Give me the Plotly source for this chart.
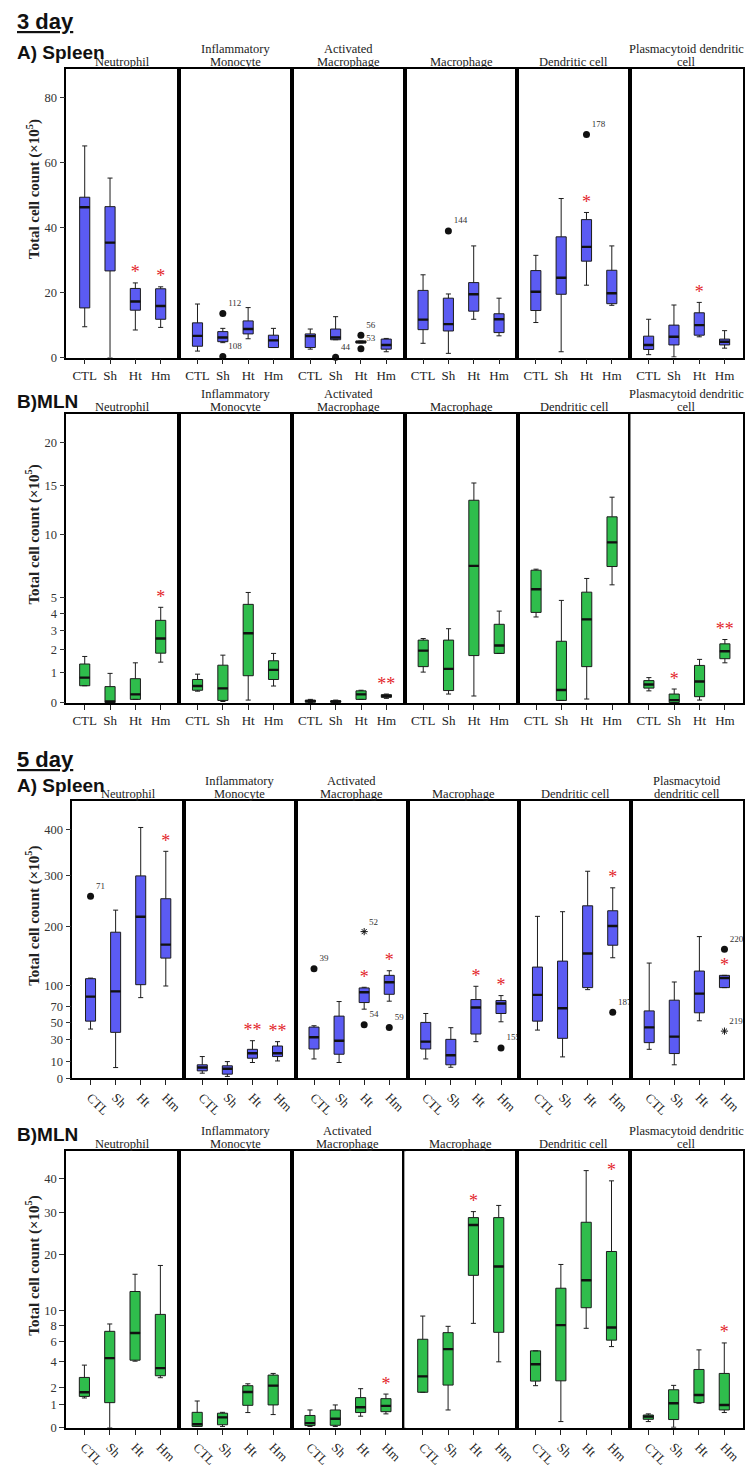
import numpy as np
import plotly.graph_objects as go

W, H = 749, 1468
groups = ["CTL", "Sh", "Ht", "Hm"]
cells_a = ["Neutrophil", "Inflammatory<br>Monocyte", "Activated<br>Macrophage",
           "Macrophage", "Dendritic cell", "Plasmacytoid dendritic<br>cell"]
cells_b = ["Neutrophil", "Inflammatory<br>Monocyte", "Activated<br>Macrophage",
           "Macrophage", "Dendritic cell", "Plasmacytoid<br>dendritic cell"]

# ---------------- 3 day spleen (linear axis) ----------------
spl3_lo = [[9.5, 0, 8.5, 9.3], [2.0, 4.6, 5.8, 3.1], [2.6, 5.5, 4.5, 1.8],
           [4.4, 1.3, 11.8, 6.7], [10.8, 1.8, 22.3, 16.1], [0.9, 0.2, 6.4, 2.9]]
spl3_q1 = [[15.3, 26.7, 14.6, 11.8], [3.5, 4.9, 7.3, 3.1], [3.1, 5.5, 4.5, 2.6],
           [8.6, 8.2, 14.3, 7.7], [14.5, 19.5, 29.7, 16.6], [2.5, 3.9, 6.9, 3.9]]
spl3_med = [[46.3, 35.4, 17.3, 15.9], [6.7, 6.2, 8.8, 5.3], [6.6, 6.2, 4.8, 3.9],
            [11.7, 10.3, 19.5, 11.8], [20.3, 24.6, 34.1, 19.8], [3.9, 6.4, 10.0, 4.9]]
spl3_q3 = [[49.4, 46.5, 21.3, 21.2], [10.7, 8.0, 11.3, 6.9], [7.3, 8.8, 5.1, 5.7],
           [20.7, 18.3, 23.1, 13.5], [26.8, 37.2, 42.5, 26.9], [6.6, 10.0, 13.8, 5.7]]
spl3_hi = [[65.2, 55.3, 23.0, 21.8], [16.5, 9.0, 15.4, 9.0], [8.8, 12.6, 5.1, 5.9],
           [25.5, 19.6, 34.4, 18.3], [31.5, 49.0, 44.7, 34.4], [11.8, 16.2, 17.0, 8.3]]
spl3_out = [(1, 1, 13.6, "112", "o"), (1, 1, 0.3, "108", "o"), (2, 1, 0.1, "44", "o"),
            (2, 2, 6.9, "56", "o"), (2, 2, 2.7, "53", "o"), (3, 1, 39.0, "144", "o"),
            (4, 2, 68.7, "178", "o")]
spl3_sig = [(0, 2, "*"), (0, 3, "*"), (4, 2, "*"), (5, 2, "*")]

# ---------------- 3 day MLN ----------------
mln3_lo = [[0.53, 0.01, 0.10, 1.44], [0.35, 0.04, 0.08, 0.52], [0.01, 0.01, 0.10, 0.13],
           [1.03, 0.26, 0.20, 1.83], [3.77, 0.07, 0.11, 5.90], [0.36, 0.01, 0.08, 1.41]]
mln3_q1 = [[0.53, 0.01, 0.10, 1.84], [0.38, 0.07, 0.89, 0.75], [0.02, 0.02, 0.10, 0.16],
           [1.25, 0.37, 1.73, 1.83], [4.05, 0.07, 1.25, 7.29], [0.45, 0.01, 0.18, 1.59]]
mln3_med = [[0.82, 0.04, 0.25, 2.56], [0.52, 0.44, 2.84, 1.12], [0.05, 0.04, 0.25, 0.20],
            [1.96, 1.16, 7.34, 2.21], [5.59, 0.39, 3.63, 9.32], [0.57, 0.08, 0.68, 1.93]]
mln3_q3 = [[1.36, 0.50, 0.78, 3.57], [0.75, 1.31, 4.56, 1.50], [0.08, 0.06, 0.36, 0.24],
           [2.48, 2.48, 13.38, 3.34], [7.00, 2.42, 5.38, 11.70], [0.71, 0.26, 1.30, 2.29]]
mln3_hi = [[1.69, 0.98, 1.41, 4.37], [0.95, 1.75, 5.36, 1.83], [0.10, 0.08, 0.38, 0.26],
           [2.56, 3.09, 15.24, 4.13], [7.08, 4.82, 6.37, 13.70], [0.82, 0.42, 1.56, 2.51]]
mln3_out = []
mln3_sig = [(0, 3, "*"), (2, 3, "**"), (5, 1, "*"), (5, 3, "**")]

# ---------------- 5 day spleen ----------------
spl5_lo = [[42.1, 5.7, 82.9, 99.9], [2.3, 0.7, 9.3, 10.5], [12.1, 9.3, 67.0, 77.9],
           [12.1, 5.9, 28.2, 50.8], [40.9, 13.8, 94.5, 144.9], [20.6, 7.6, 52.0, 97.5]]
spl5_q1 = [[51.6, 38.3, 101.9, 144.3], [3.6, 1.8, 12.7, 14.1], [20.9, 16.1, 76.0, 87.7],
           [20.9, 7.6, 36.4, 61.3], [51.6, 31.7, 97.5, 166.4], [27.2, 16.7, 62.2, 97.5]]
spl5_med = [[84.4, 92.0, 218.4, 167.5], [5.7, 4.9, 17.0, 17.0], [32.8, 29.2, 90.6, 105.5],
            [28.2, 15.2, 69.2, 74.6], [86.8, 68.3, 152.1, 201.1], [44.0, 33.5, 88.7, 112.2]]
spl5_q3 = [[111.1, 189.6, 299.8, 253.3], [7.6, 6.9, 20.6, 23.8], [44.4, 57.9, 97.0, 116.3],
           [50.0, 30.6, 80.2, 78.8], [129.5, 139.3, 239.4, 229.8], [64.7, 79.3, 123.1, 116.3]]
spl5_hi = [[112.0, 231.0, 405.6, 352.3], [14.1, 10.0, 29.2, 28.2], [46.0, 77.4, 98.0, 123.6],
           [61.3, 43.7, 99.5, 85.8], [219.1, 228.0, 309.5, 275.2], [136.1, 106.0, 181.7, 116.3]]
spl5_out = [(0, 0, 258.4, "71", "o"), (2, 0, 126.8, "39", "o"), (2, 2, 190.7, "52", "*"),
            (2, 2, 47.2, "54", "o"), (2, 3, 44.0, "59", "o"), (3, 3, 21.9, "155", "o"),
            (4, 3, 63.0, "187", "o"), (5, 3, 159.5, "220", "o"), (5, 3, 39.7, "219", "*")]
spl5_sig = [(0, 3, "*"), (1, 2, "**"), (1, 3, "**"), (2, 2, "*"), (2, 3, "*"),
            (3, 2, "*"), (3, 3, "*"), (4, 3, "*"), (5, 3, "*")]

# ---------------- 5 day MLN ----------------
mln5_lo = [[1.36, 0.0, 4.07, 2.70], [0.05, 0.05, 0.61, 0.52], [0.05, 0.05, 0.45, 0.55],
           [1.70, 0.73, 8.23, 4.01], [2.13, 0.23, 7.6, 5.5], [0.23, 0.02, 1.07, 0.61]]
mln5_q1 = [[1.45, 1.10, 4.16, 2.85], [0.05, 0.11, 0.96, 0.98], [0.08, 0.09, 0.61, 0.65],
           [1.70, 2.17, 15.8, 7.11], [2.45, 2.47, 10.4, 6.2], [0.32, 0.31, 1.10, 0.73]]
mln5_med = [[1.70, 4.35, 7.03, 3.46], [0.13, 0.40, 1.72, 2.13], [0.17, 0.34, 0.86, 0.93],
            [2.80, 5.23, 26.8, 17.5], [3.80, 8.0, 14.9, 7.7], [0.43, 1.07, 1.53, 0.98]]
mln5_q3 = [[2.72, 7.23, 12.95, 9.44], [0.62, 0.58, 2.13, 2.90], [0.48, 0.73, 1.38, 1.32],
           [6.30, 7.07, 28.7, 28.7], [5.06, 13.5, 27.5, 20.6], [0.50, 1.86, 3.35, 3.03]]
mln5_hi = [[3.72, 8.15, 16.0, 17.7], [1.19, 0.62, 2.26, 3.03], [0.73, 0.98, 1.93, 1.59],
           [9.21, 7.85, 30.3, 32.0], [5.06, 17.9, 42.6, 39.3], [0.55, 2.15, 5.16, 5.89]]
mln5_out = []
mln5_sig = [(2, 3, "*"), (3, 2, "*"), (4, 3, "*"), (5, 3, "*")]

ticks_spl3 = [0, 20, 40, 60, 80]
ticks_mln3 = [0, 1, 2, 3, 4, 5, 10, 15, 20]
ticks_spl5 = [0, 10, 30, 50, 70, 100, 200, 300, 400]
ticks_mln5 = [0, 1, 2, 4, 6, 8, 10, 20, 30, 40]

BLUE = "#5b5bf3"
GREEN = "#2fbd4c"
EDGE = "#1c1c1c"
SERIF = "Liberation Serif"
SANS = "Liberation Sans"


def tf(v, p):
    v = np.asarray(v, dtype=float)
    if p == 1:
        return v
    return ((v + 1.0) ** p - 1.0) / p


panels = [
    dict(lo=spl3_lo, q1=spl3_q1, med=spl3_med, q3=spl3_q3, hi=spl3_hi, out=spl3_out,
         sig=spl3_sig, ticks=ticks_spl3, p=1.0, ymax=89.0, px=(66.3, 743.0, 69.0, 359.3),
         color=BLUE, angle=0, cells=cells_a),
    dict(lo=mln3_lo, q1=mln3_q1, med=mln3_med, q3=mln3_q3, hi=mln3_hi, out=mln3_out,
         sig=mln3_sig, ticks=ticks_mln3, p=0.5, ymax=23.8, px=(66.3, 743.3, 416.0, 706.3),
         color=GREEN, angle=0, cells=cells_a),
    dict(lo=spl5_lo, q1=spl5_q1, med=spl5_med, q3=spl5_q3, hi=spl5_hi, out=spl5_out,
         sig=spl5_sig, ticks=ticks_spl5, p=0.7, ymax=467.0, px=(72.3, 742.7, 805.0, 1083.3),
         color=BLUE, angle=45, cells=cells_b),
    dict(lo=mln5_lo, q1=mln5_q1, med=mln5_med, q3=mln5_q3, hi=mln5_hi, out=mln5_out,
         sig=mln5_sig, ticks=ticks_mln5, p=0.4, ymax=49.3, px=(66.0, 742.7, 1156.7, 1434.7),
         color=GREEN, angle=45, cells=cells_a),
]

fig = go.Figure()
layout = {}
annotations = []
xpos = np.arange(4)
bw = 0.4

k = 0
for P in panels:
    x0, x1, y0, y1 = P["px"]
    sw = (x1 - x0) / 6.0
    p = P["p"]
    for c in range(6):
        k += 1
        xa = "x" if k == 1 else f"x{k}"
        ya = "y" if k == 1 else f"y{k}"
        xkey = "xaxis" if k == 1 else f"xaxis{k}"
        ykey = "yaxis" if k == 1 else f"yaxis{k}"
        sx0 = x0 + c * sw
        sx1 = sx0 + sw
        layout[xkey] = dict(
            domain=[sx0 / W, sx1 / W], anchor=ya, range=[-0.727, 3.727],
            tickvals=list(xpos), ticktext=groups, ticks="outside", ticklen=5,
            tickcolor="#222", tickangle=P["angle"], showgrid=False, zeroline=False,
            showline=True, mirror=True, linecolor="black", linewidth=1.5,
            tickfont=dict(family=SERIF, size=13, color="#222"), fixedrange=True)
        first = (c == 0)
        layout[ykey] = dict(
            domain=[1 - y1 / H, 1 - y0 / H], anchor=xa,
            range=[0, float(tf(P["ymax"], p))],
            tickvals=list(tf(P["ticks"], p)) if first else [],
            ticktext=[str(t) for t in P["ticks"]] if first else [],
            ticks="outside" if first else "", ticklen=5, tickcolor="#333",
            showticklabels=first, showgrid=False, zeroline=False,
            showline=True, mirror=True, linecolor="black", linewidth=1.5,
            tickfont=dict(family=SERIF, size=12.5, color="#333"), fixedrange=True)

        lo = tf(P["lo"][c], p)
        q1 = tf(P["q1"][c], p)
        md = tf(P["med"][c], p)
        q3 = tf(P["q3"][c], p)
        hi = tf(P["hi"][c], p)
        fig.add_trace(go.Box(
            x=list(xpos), q1=list(q1), median=list(md), q3=list(q3),
            lowerfence=list(lo), upperfence=list(hi), width=bw, whiskerwidth=0.5,
            fillcolor=P["color"], line=dict(color=EDGE, width=1), boxpoints=False,
            xaxis=xa, yaxis=ya, showlegend=False, hoverinfo="skip"))
        # thick median line
        mx, my = [], []
        for i in range(4):
            mx += [xpos[i] - bw / 2, xpos[i] + bw / 2, None]
            my += [md[i], md[i], None]
        fig.add_trace(go.Scatter(x=mx, y=my, mode="lines",
                                 line=dict(color="#111", width=2.4),
                                 xaxis=xa, yaxis=ya, showlegend=False, hoverinfo="skip"))
        # outliers
        for (cc, g, v, lab, kind) in P["out"]:
            if cc != c:
                continue
            if kind == "o":
                mk = dict(symbol="circle", size=7, color="#111")
            else:
                mk = dict(symbol="asterisk-open", size=6, color="#111",
                          line=dict(color="#111", width=1))
            fig.add_trace(go.Scatter(
                x=[g], y=[float(tf(v, p))], mode="markers+text", marker=mk,
                text=[lab], textposition="top right", cliponaxis=False,
                textfont=dict(family=SERIF, size=9, color="#333"),
                xaxis=xa, yaxis=ya, showlegend=False, hoverinfo="skip"))
        # significance
        for (cc, g, s) in P["sig"]:
            if cc != c:
                continue
            fig.add_trace(go.Scatter(
                x=[g], y=[float(hi[g])], mode="text", text=[s],
                textposition="top center", cliponaxis=False,
                textfont=dict(family=SERIF, size=18, color="#e3262c"),
                xaxis=xa, yaxis=ya, showlegend=False, hoverinfo="skip"))
        # subplot title, one annotation per line for tight spacing
        lines = P["cells"][c].split("<br>")
        for j, ln in enumerate(reversed(lines)):
            annotations.append(dict(
                text=ln, x=(sx0 + sx1) / 2 / W, y=1 - (y0 - 7 - 13 * j) / H,
                xref="paper", yref="paper", xanchor="center", yanchor="middle",
                showarrow=False,
                font=dict(family=SERIF, size=12.5, color="#222")))
    # y-axis title
    annotations.append(dict(
        text="<b>Total cell count (×10<sup>5</sup>)</b>", textangle=-90,
        x=33 / W, y=1 - ((y0 + y1) / 2 - 24) / H, xref="paper", yref="paper",
        xanchor="center", yanchor="middle", showarrow=False,
        font=dict(family=SERIF, size=15, color="#222")))

headers = [("<b><u>3 day</u></b>", 22, 22), ("<b>A) Spleen</b>", 53, 19),
           ("<b>B)MLN</b>", 403, 19), ("<b><u>5 day</u></b>", 763, 22),
           ("<b>A) Spleen</b>", 789, 19), ("<b>B)MLN</b>", 1140, 19)]
for txt, yy, sz in headers:
    annotations.append(dict(
        text=txt, x=15 / W, y=1 - yy / H, xref="paper", yref="paper",
        xanchor="left", yanchor="middle", showarrow=False,
        font=dict(family=SANS, size=sz, color="#111")))

fig.update_layout(
    width=W, height=H, margin=dict(l=0, r=0, t=0, b=0),
    paper_bgcolor="white", plot_bgcolor="white", showlegend=False,
    annotations=annotations, **layout)

fig.write_html("out.html")
